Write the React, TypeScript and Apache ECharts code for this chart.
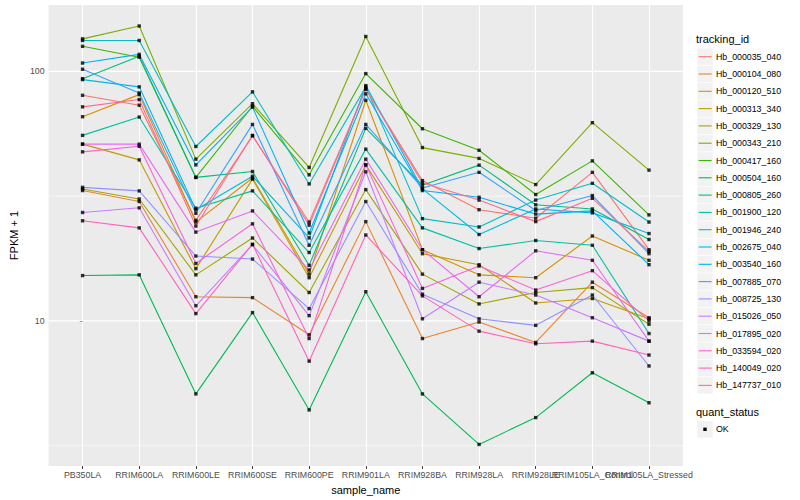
import React, { useEffect, useRef } from 'react';
import * as echarts from 'echarts';

const categories = ['PB350LA', 'RRIM600LA', 'RRIM600LE', 'RRIM600SE', 'RRIM600PE', 'RRIM901LA', 'RRIM928BA', 'RRIM928LA', 'RRIM928LE', 'RRIM105LA_Control', 'RRIM105LA_Stressed'];

const yMajorBreaks = [10, 100];
const yMinorBreaks = [3.162, 31.62];
const yMin = 2.62;
const yMax = 184.5;

const hb_000035_040 = [80.2, 73.2, 25.3, 55.1, 24.9, 85.0, 36.5, 27.9, 25.8, 39.4, 19.3];
const hb_000104_080 = [33.3, 30.1, 12.5, 12.4, 8.8, 25.0, 8.5, 9.9, 8.2, 14.3, 10.3];
const hb_000120_510 = [65.8, 80.7, 24.9, 37.4, 15.4, 76.6, 19.3, 15.3, 14.9, 21.9, 17.5];
const hb_000313_340 = [51.1, 44.2, 16.2, 37.0, 14.9, 42.2, 18.6, 16.8, 11.8, 12.3, 10.2];
const hb_000329_130 = [33.8, 30.8, 15.3, 21.5, 13.0, 33.6, 15.4, 11.7, 13.0, 13.6, 9.7];
const hb_000343_210 = [135, 152, 44.5, 74.2, 41.2, 138, 49.5, 44.8, 35.2, 62.3, 40.2];
const hb_000417_160 = [126, 114, 37.6, 72.5, 38.5, 98, 58.9, 48.3, 32.1, 43.8, 26.6];
const hb_000504_160 = [15.2, 15.3, 5.1, 10.8, 4.4, 13.1, 5.1, 3.2, 4.1, 6.2, 4.7];
const hb_000805_260 = [93.5, 115, 37.6, 39.7, 16.7, 59.1, 35.0, 42.1, 29.2, 28.1, 21.2];
const hb_001900_120 = [55.4, 65.6, 28.3, 33.2, 18.8, 48.8, 23.6, 19.5, 21.0, 20.1, 8.9];
const hb_001946_240 = [133, 133, 50.0, 82.8, 35.4, 86.7, 25.7, 23.8, 30.5, 35.6, 24.9];
const hb_002675_040 = [92.7, 86.7, 27.9, 38.0, 21.5, 87.7, 33.8, 22.2, 28.1, 27.1, 22.4];
const hb_003540_160 = [108, 117, 42.2, 71.9, 22.5, 81.3, 33.3, 31.3, 26.8, 27.6, 16.8];
const hb_007885_070 = [102, 82, 27.0, 61.3, 20.1, 61.3, 34.1, 39.4, 27.7, 31.8, 18.6];
const hb_008725_130 = [34.3, 33.2, 18.2, 17.7, 11.2, 30.1, 12.8, 10.2, 9.6, 12.7, 6.6];
const hb_015026_050 = [27.2, 28.4, 11.5, 20.2, 10.5, 39.6, 10.2, 14.3, 12.7, 10.3, 8.3];
const hb_017895_020 = [51.1, 51.1, 22.7, 27.6, 16.0, 44.5, 19.3, 12.5, 19.1, 17.5, 8.3];
const hb_033594_020 = [47.6, 50.1, 17.0, 24.5, 8.5, 42.2, 13.5, 16.6, 13.3, 15.9, 10.0];
const hb_140049_020 = [25.2, 23.6, 10.7, 20.3, 6.9, 22.1, 12.6, 9.1, 8.1, 8.3, 7.3];
const hb_147737_010 = [72.1, 77.1, 24.0, 55.4, 24.2, 85.0, 35.7, 30.5, 25.0, 31.0, 19.0];

const trackingIds = ['Hb_000035_040', 'Hb_000104_080', 'Hb_000120_510', 'Hb_000313_340', 'Hb_000329_130', 'Hb_000343_210', 'Hb_000417_160', 'Hb_000504_160', 'Hb_000805_260', 'Hb_001900_120', 'Hb_001946_240', 'Hb_002675_040', 'Hb_003540_160', 'Hb_007885_070', 'Hb_008725_130', 'Hb_015026_050', 'Hb_017895_020', 'Hb_033594_020', 'Hb_140049_020', 'Hb_147737_010'];
const seriesValues = [hb_000035_040, hb_000104_080, hb_000120_510, hb_000313_340, hb_000329_130, hb_000343_210, hb_000417_160, hb_000504_160, hb_000805_260, hb_001900_120, hb_001946_240, hb_002675_040, hb_003540_160, hb_007885_070, hb_008725_130, hb_015026_050, hb_017895_020, hb_033594_020, hb_140049_020, hb_147737_010];
const colors = ['#F8766D', '#EA8331', '#D89000', '#C09B00', '#A3A500', '#7CAE00', '#39B600', '#00BB4E', '#00BF7D', '#00C1A3', '#00BFC4', '#00BAE0', '#00B0F6', '#35A2FF', '#9590FF', '#C77CFF', '#E76BF3', '#FA62DB', '#FF62BC', '#FF6C91'];
const quantStatus = ['OK'];

const FONT = 'Liberation Sans, Arial, Helvetica, sans-serif';

export default function App() {
  const ref = useRef<HTMLDivElement>(null);
  useEffect(() => {
    const chart = echarts.init(ref.current!, null, { renderer: 'svg' });
    const catIdx = categories.map((_, i) => i);
    const xMin = -0.6;
    const xMax = categories.length - 1 + 0.6;
    const labelValues = [xMin, ...catIdx, xMax];

    const lineSeries = seriesValues.map((vals, s) => ({
      name: trackingIds[s],
      type: 'line',
      z: 3,
      showSymbol: false,
      symbol: 'none',
      data: vals.map((v, i) => [i, v]),
      lineStyle: { color: colors[s], width: 1.1 },
      itemStyle: { color: colors[s] },
      emphasis: { disabled: true },
    }));

    const gridSeries = [
      ...yMinorBreaks.map((b) => ({ b, w: 0.6 })),
      ...yMajorBreaks.map((b) => ({ b, w: 1.2 })),
    ].map(({ b, w }) => ({
      type: 'line',
      z: 1,
      silent: true,
      showSymbol: false,
      symbol: 'none',
      data: [[xMin, b], [xMax, b]],
      lineStyle: { color: '#FFFFFF', width: w },
      emphasis: { disabled: true },
      tooltip: { show: false },
    }));

    const points: number[][] = [];
    seriesValues.forEach((vals) => vals.forEach((v, i) => points.push([i, v])));

    const legendTop = 56.7;
    const legendStep = 17.3;
    const legendEls: any[] = [
      { type: 'text', x: 696, y: 38.5, style: { text: 'tracking_id', font: `11px ${FONT}`, fill: '#000', verticalAlign: 'middle' } },
    ];
    trackingIds.forEach((id, s) => {
      const cy = legendTop + s * legendStep;
      legendEls.push({ type: 'rect', shape: { x: 697.3, y: cy - 8.3, width: 15.4, height: 16.6 }, style: { fill: '#F2F2F2' } });
      legendEls.push({ type: 'line', shape: { x1: 698.6, y1: cy, x2: 711.6, y2: cy }, style: { stroke: colors[s], lineWidth: 1.1 } });
      legendEls.push({ type: 'text', x: 716, y: cy, style: { text: id, font: `8.8px ${FONT}`, fill: '#000', verticalAlign: 'middle' } });
    });
    const qsTitleY = 412.3;
    legendEls.push({ type: 'text', x: 696, y: qsTitleY, style: { text: 'quant_status', font: `11px ${FONT}`, fill: '#000', verticalAlign: 'middle' } });
    quantStatus.forEach((q, k) => {
      const cy = 429.3 + k * legendStep;
      legendEls.push({ type: 'rect', shape: { x: 697.3, y: cy - 8.3, width: 15.4, height: 16.6 }, style: { fill: '#F2F2F2' } });
      legendEls.push({ type: 'rect', shape: { x: 703.3, y: cy - 1.7, width: 3.4, height: 3.4 }, style: { fill: '#000' } });
      legendEls.push({ type: 'text', x: 716, y: cy, style: { text: q, font: `8.8px ${FONT}`, fill: '#000', verticalAlign: 'middle' } });
    });

    const option: any = {
      animation: false,
      backgroundColor: '#FFFFFF',
      textStyle: { fontFamily: FONT },
      grid: {
        left: 40, top: 5, width: 643, height: 462,
        show: true, backgroundColor: '#EBEBEB', borderWidth: 0, containLabel: false,
      },
      xAxis: {
        type: 'value',
        min: xMin,
        max: xMax,
        splitNumber: 11,
        name: 'sample_name',
        nameLocation: 'middle',
        nameGap: 13,
        nameTextStyle: { fontSize: 11, color: '#000', fontFamily: FONT },
        axisLine: { show: false },
        axisTick: { show: true, length: 2.75, lineStyle: { color: '#333333', width: 1 }, customValues: catIdx },
        axisLabel: {
          customValues: labelValues,
          showMinLabel: false, showMaxLabel: false, hideOverlap: false,
          fontSize: 8.8, color: '#4D4D4D', margin: 4, fontFamily: FONT,
          formatter: (v: number) => (Number.isInteger(v) && v >= 0 && v < categories.length ? categories[v] : ''),
        },
        splitLine: { show: true, lineStyle: { color: '#FFFFFF', width: 1.1 } },
      },
      yAxis: {
        type: 'log',
        logBase: 10,
        min: yMin,
        max: yMax,
        name: 'FPKM + 1',
        nameLocation: 'middle',
        nameRotate: 90,
        nameGap: 27,
        nameTextStyle: { fontSize: 11, color: '#000', fontFamily: FONT },
        axisLine: { show: false },
        axisTick: { show: true, length: 2.75, lineStyle: { color: '#333333', width: 1 } },
        axisLabel: {
          showMinLabel: false, showMaxLabel: false,
          fontSize: 8.8, color: '#4D4D4D', margin: 4, fontFamily: FONT,
          formatter: (v: number) => (yMajorBreaks.some((b) => Math.abs(b - v) < 1e-6) ? String(Math.round(v)) : ''),
        },
        splitLine: { show: false },
      },
      graphic: legendEls,
      series: [
        ...gridSeries,
        ...lineSeries,
        {
          type: 'scatter',
          z: 5,
          symbol: 'rect',
          symbolSize: 3.4,
          data: points,
          itemStyle: { color: '#000000' },
          emphasis: { disabled: true },
        },
      ],
    };
    chart.setOption(option);
    return () => chart.dispose();
  }, []);
  return <div ref={ref} style={{ position: 'fixed', left: 0, top: 0, width: 800, height: 500 }} />;
}
